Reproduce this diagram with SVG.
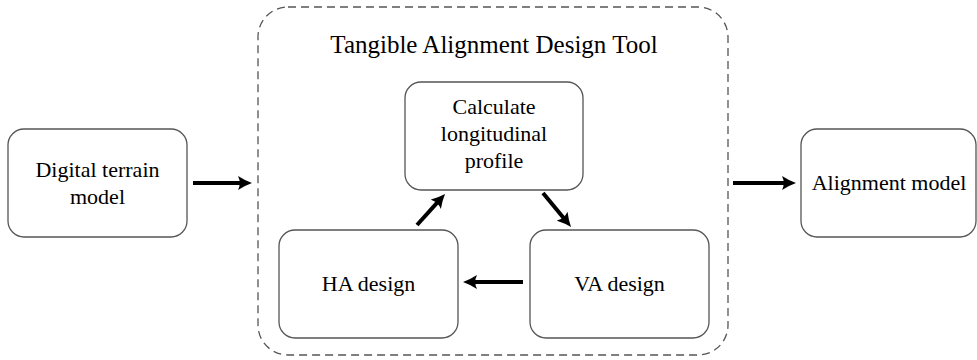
<svg xmlns="http://www.w3.org/2000/svg" width="977" height="360" viewBox="0 0 977 360">
<style>
.box{fill:#fff;stroke:#555;stroke-width:1.3}
.frame{fill:none;stroke:#555;stroke-width:1.3;stroke-dasharray:8 5}
text{font-family:'Liberation Serif','Times New Roman','DejaVu Serif',serif;font-size:22px;fill:#000;text-anchor:middle}
.title{font-size:25px}
.arr{stroke:#000;stroke-width:4;fill:none;marker-end:url(#ah)}
</style>
<defs>
<marker id="ah" viewBox="0 0 14 14" markerWidth="14" markerHeight="14" markerUnits="userSpaceOnUse" refX="5" refY="7" orient="auto">
<path d="M14,7 Q7,4.5 0,0 Q3.5,7 0,14 Q7,9.5 14,7 Z" fill="#000"/>
</marker>
</defs>
<rect width="977" height="360" fill="#fff"/>
<g id="tool">
<rect class="frame" x="258" y="7" width="470" height="348" rx="30"/>
<text class="title" x="494" y="53">Tangible Alignment Design Tool</text>
</g>
<g id="dtm">
<rect class="box" x="8" y="129" width="179" height="108" rx="16"/>
<text x="97.5" y="177">Digital terrain</text>
<text x="97.5" y="204">model</text>
</g>
<g id="calc">
<rect class="box" x="405" y="82" width="178" height="108" rx="16"/>
<text x="494" y="114">Calculate</text>
<text x="494" y="141">longitudinal</text>
<text x="494" y="168">profile</text>
</g>
<g id="ha">
<rect class="box" x="279" y="230" width="179" height="108" rx="16"/>
<text x="368.5" y="291">HA design</text>
</g>
<g id="va">
<rect class="box" x="530" y="230" width="179" height="108" rx="16"/>
<text x="619.5" y="291">VA design</text>
</g>
<g id="am">
<rect class="box" x="801" y="129" width="175" height="108" rx="16"/>
<text x="889" y="190">Alignment model</text>
</g>
<g id="connectors">
<line class="arr" x1="193" y1="183" x2="243" y2="183"/>
<line class="arr" x1="733" y1="183" x2="787" y2="183"/>
<line class="arr" x1="523" y1="282" x2="472" y2="282"/>
<line class="arr" x1="417" y1="225" x2="439" y2="200.6"/>
<line class="arr" x1="543" y1="193" x2="565.3" y2="220"/>
</g>
</svg>
